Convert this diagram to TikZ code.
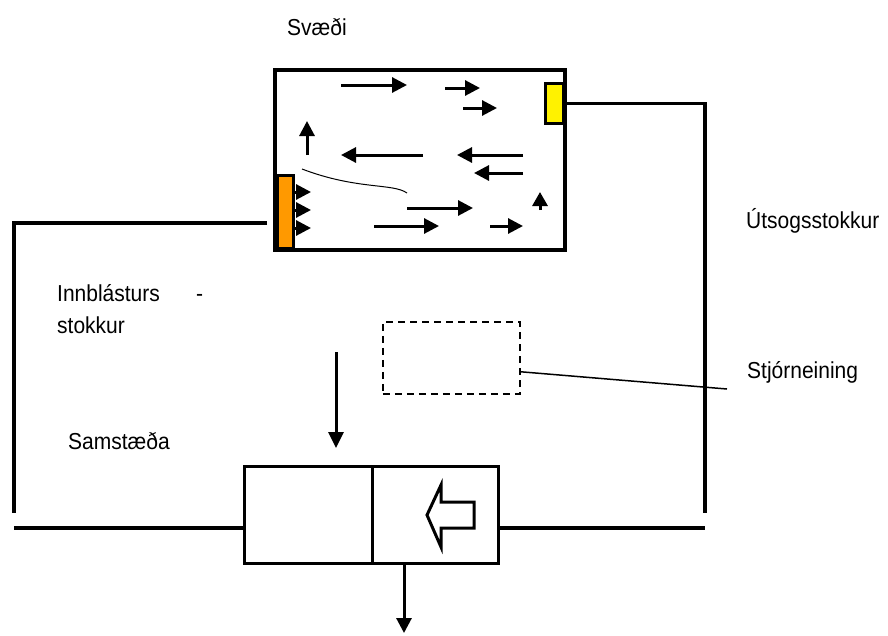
\documentclass[tikz,border=0pt]{standalone}
\usepackage{fontspec}
\setmainfont{Liberation Sans}
\usetikzlibrary{arrows.meta,calc}
\tikzset{
  box/.style={draw, line width=3.3pt, inner sep=0pt, anchor=north west, fill=white},
  duct/.style={line width=3.3pt},
  flow/.style={line width=3pt, -{Triangle[length=15pt,width=15pt]}},
  lbl/.style={inner sep=0pt, anchor=base west, font=\fontsize{21}{25}\selectfont},
}
\newcommand{\lt}[1]{\scalebox{1}[1.1]{#1}}
\begin{document}
\begin{tikzpicture}[x=1pt,y=-1pt]
\useasboundingbox (0,0) rectangle (888,635);
% room
\node[box, line width=3.5pt, minimum width=290pt, minimum height=180pt] (room) at (273,68) {};
\node[box, line width=2.5pt, fill=yellow, minimum width=18pt, minimum height=40pt] (exhaust) at (544,82) {};
\node[box, line width=2.5pt, fill={rgb,255:red,255;green,153;blue,0}, minimum width=16pt, minimum height=73pt] (supply) at (276,174) {};
% flows in room
\draw[flow] (341,85) -- (407,85);
\draw[flow] (445,88) -- (480,88);
\draw[flow] (463,108) -- (497,108);
\draw[flow] (307,155) -- (307,121);
\draw[flow] (423,155) -- (341,155);
\draw[flow] (523,155) -- (457,155);
\draw[flow] (523,173) -- (474,173);
\draw[line width=1pt] (302,169) .. controls (357,190) and (393,183) .. (407,193);
\draw[flow] (293,192) -- (311,192);
\draw[flow] (293,210) -- (311,210);
\draw[flow] (293,228) -- (311,228);
\draw[flow] (407,208) -- (473,208);
\draw[flow] (374,226) -- (439,226);
\draw[flow] (490,226) -- (523,226);
\draw[line width=3pt, -{Triangle[length=14pt,width=15pt]}] (540,210) -- (540,192);
% unit
\node[box, minimum width=128pt, minimum height=97pt] (unitL) at (243,465) {};
\node[box, minimum width=126pt, minimum height=97pt] (unitR) at (371,465) {};
\draw[line width=3pt, fill=white] (427,515) -- (441,485) -- (441,502) -- (474,502) -- (474,528) -- (441,528) -- (441,547) -- cycle;
% control unit
\node[draw, dashed, dash pattern=on 7pt off 5pt, line width=1.5pt, inner sep=0pt, anchor=north west, minimum width=137pt, minimum height=72pt] (ctrl) at (382,321) {};
% ducts
\coordinate (exTop) at (705,100);
\coordinate (exBot) at (705,513);
\coordinate (exIn) at (705,528);
\coordinate (suEnd) at (267,223);
\coordinate (suTop) at (14,223);
\coordinate (suBot) at (14,513);
\coordinate (suIn) at (14,528);
\draw[duct] (exhaust.east) -- (exhaust.east -| exTop) -- (exBot);
\draw[duct] (unitR.east |- exIn) -- (exIn);
\draw[duct] (suEnd) -- (suTop) -- (suBot);
\draw[duct] (suIn) -- (unitL.west |- suIn);
% arrows at unit
\coordinate (inTop) at (336,352);
\coordinate (inTip) at (336,448);
\draw[line width=3pt, -{Triangle[length=16pt,width=15pt]}] (inTop) -- (inTip);
\coordinate (outTip) at (404,633);
\draw[line width=3pt, -{Triangle[length=15pt,width=15pt]}] (unitR.south west -| outTip) -- (outTip);
% leader
\coordinate (leadEnd) at (727,389);
\draw[line width=1.5pt] ([yshift=-14pt]ctrl.east) -- (leadEnd);
% labels
\node[lbl] (tRoom) at (287,35) {\lt{Svæði}};
\node[lbl] (tExh) at (746,228) {\lt{Útsogsstokkur}};
\node[lbl] (tCtrl) at (747,378) {\lt{Stjórneining}};
\node[lbl] (tSup1) at (57,301) {\lt{Innblásturs}};
\node[lbl] (tDash) at (196,301) {\lt{-}};
\node[lbl] (tSup2) at (57,333) {\lt{stokkur}};
\node[lbl] (tUnit) at (68,449) {\lt{Samstæða}};
\end{tikzpicture}
\end{document}
